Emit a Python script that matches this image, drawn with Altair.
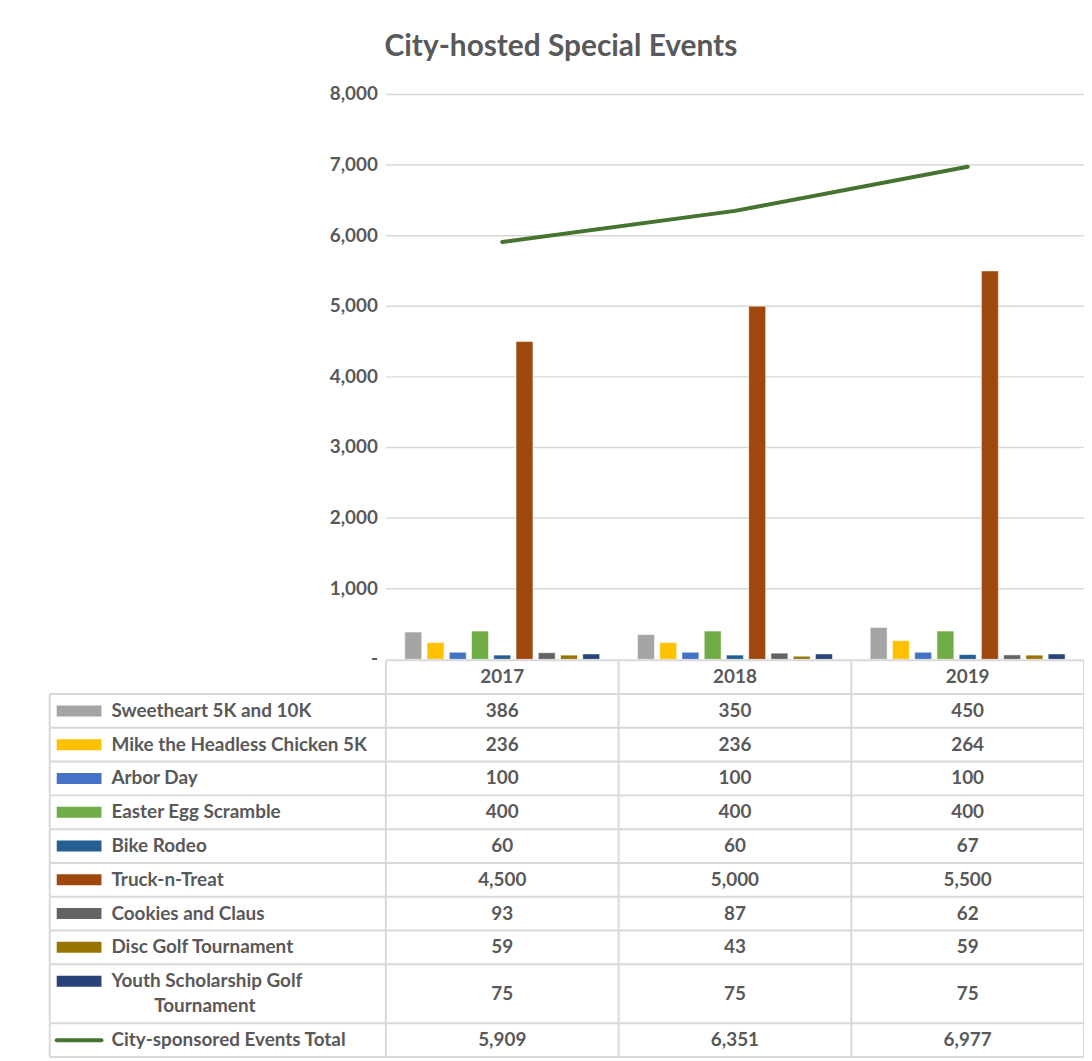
import altair as alt
import pandas as pd

# ---------------- data ----------------
years = ["2017", "2018", "2019"]
series = [
    "Sweetheart 5K and 10K",
    "Mike the Headless Chicken 5K",
    "Arbor Day",
    "Easter Egg Scramble",
    "Bike Rodeo",
    "Truck-n-Treat",
    "Cookies and Claus",
    "Disc Golf Tournament",
    "Youth Scholarship Golf Tournament",
]
series_colors = ["#A5A5A5", "#FFC000", "#4472C4", "#70AD47", "#255E91",
                 "#9E480E", "#636363", "#997300", "#264478"]
v2017 = [386, 236, 100, 400, 60, 4500, 93, 59, 75]
v2018 = [350, 236, 100, 400, 60, 5000, 87, 43, 75]
v2019 = [450, 264, 100, 400, 67, 5500, 62, 59, 75]
total_name = "City-sponsored Events Total"
totals = [5909, 6351, 6977]
total_color = "#467330"
# how each row label is wrapped in the data table
label_lines = [
    ["Sweetheart 5K and 10K"],
    ["Mike the Headless Chicken 5K"],
    ["Arbor Day"],
    ["Easter Egg Scramble"],
    ["Bike Rodeo"],
    ["Truck-n-Treat"],
    ["Cookies and Claus"],
    ["Disc Golf Tournament"],
    ["Youth Scholarship Golf", "Tournament"],
    ["City-sponsored Events Total"],
]
y_ticks = [0, 1000, 2000, 3000, 4000, 5000, 6000, 7000, 8000]
title_text = "City-hosted Special Events"

# ---------------- layout constants ----------------
W, H = 1040, 968            # whole plot area (table included)
LABEL_PX = 338              # width of the table's label column
COL_PX = (W - LABEL_PX) / 3 # width of one year column
CHART_PX = 568              # height of the bar/line area
LABEL_W = LABEL_PX / COL_PX # label column width in column units
TEXT = "#595959"
GRID = "#D9D9D9"
FONT = "Lato"
FS = 19

# ---------------- frames ----------------
all_vals = [v2017, v2018, v2019]
bar_rows = []
for yi, y in enumerate(years):
    for si, s in enumerate(series):
        bar_rows.append({"year": y, "series": s, "value": all_vals[yi][si]})
bars_df = pd.DataFrame(bar_rows)
total_df = pd.DataFrame({"year": years, "value": totals})
ticks_df = pd.DataFrame({"v": y_ticks})

# table rows
row_names = series + [total_name]
row_colors = series_colors + [total_color]
row_vals = [[all_vals[yi][si] for yi in range(3)] for si in range(len(series))] + [totals]
LINE_U = 0.74
rows = []
top = 1.0
for ri, name in enumerate(row_names):
    n = len(label_lines[ri])
    h = 1.0 if n == 1 else 1.75
    rows.append({"name": name, "top": top, "h": h, "n": n})
    top += h
table_end = top

hlines = [{"y": 0.0, "x1": 0.0, "x2": 3.0}]
for r in rows:
    hlines.append({"y": r["top"], "x1": -LABEL_W, "x2": 3.0})
hlines.append({"y": table_end, "x1": -LABEL_W, "x2": 3.0})
hlines_df = pd.DataFrame(hlines)
vlines_df = pd.DataFrame(
    [{"x": -LABEL_W, "y1": 1.0, "y2": table_end}]
    + [{"x": float(i), "y1": 0.0, "y2": table_end} for i in range(4)]
)

header_df = pd.DataFrame({"t": years, "x": [i + 0.5 for i in range(3)], "y": [0.5] * 3})

val_rows, lab_rows, sw_rows = [], [], []
for ri, r in enumerate(rows):
    c = r["top"] + r["h"] / 2
    for yi in range(3):
        val_rows.append({"t": f"{row_vals[ri][yi]:,}", "x": yi + 0.5, "y": c})
    for j, line in enumerate(label_lines[ri]):
        ly = c + (j - (r["n"] - 1) / 2) * LINE_U
        lab_rows.append({"t": line, "x": -LABEL_W, "y": ly, "cont": j > 0})
    first_y = c - (r["n"] - 1) / 2 * LINE_U
    sw_rows.append({"name": r["name"], "y": first_y,
                    "x1": -LABEL_W + 7 / COL_PX, "x2": -LABEL_W + 52 / COL_PX,
                    "kind": "line" if r["name"] == total_name else "bar"})
val_df = pd.DataFrame(val_rows)
lab_df = pd.DataFrame(lab_rows)
sw_df = pd.DataFrame(sw_rows)

# ---------------- scales ----------------
xs = alt.Scale(domain=years, range=[LABEL_PX, W], paddingInner=0, paddingOuter=0)
ys = alt.Scale(domain=[0, 8000], range=[CHART_PX, 0], nice=False)
cs = alt.Scale(domain=row_names, range=row_colors)
txs = alt.Scale(domain=[-LABEL_W, 3], range=[0, W], nice=False, zero=False)
tys = alt.Scale(domain=[0, table_end], range=[CHART_PX + 1, H], nice=False, zero=False)

# ---------------- chart part ----------------
grid = alt.Chart(ticks_df).transform_filter("datum.v > 0").mark_rule(
    color=GRID, strokeWidth=1.5
).encode(
    x=alt.XDatum("2017", bandPosition=0, scale=xs, axis=None),
    x2=alt.X2Datum("2019", bandPosition=1),
    y=alt.Y("v:Q", scale=ys, axis=None),
)

bars = alt.Chart(bars_df).mark_bar(stroke="white", strokeWidth=0.5).encode(
    x=alt.X("year:N", scale=xs, axis=None, sort=years),
    xOffset=alt.XOffset("series:N", sort=series,
                        scale=alt.Scale(paddingInner=0.24, paddingOuter=0.85)),
    y=alt.Y("value:Q", scale=ys, axis=None),
    color=alt.Color("series:N", scale=cs, legend=None),
)

line = alt.Chart(total_df).mark_line(
    color=total_color, strokeWidth=4, strokeCap="round"
).encode(
    x=alt.X("year:N", scale=xs, axis=None, sort=years),
    y=alt.Y("value:Q", scale=ys, axis=None),
)

ylabels = alt.Chart(ticks_df).transform_calculate(
    lab="datum.v == 0 ? '-' : format(datum.v, ',')"
).mark_text(
    align="right", baseline="middle", dx=-8, font=FONT, fontSize=FS,
    fontWeight="bold", color=TEXT
).encode(
    x=alt.XDatum("2017", bandPosition=0, scale=xs, axis=None),
    y=alt.Y("v:Q", scale=ys, axis=None),
    text="lab:N",
)

top_part = alt.layer(grid, bars, line, ylabels)

# ---------------- table part ----------------
hl = alt.Chart(hlines_df).mark_rule(color=GRID, strokeWidth=2).encode(
    x=alt.X("x1:Q", scale=txs, axis=None), x2="x2:Q",
    y=alt.Y("y:Q", scale=tys, axis=None),
)
vl = alt.Chart(vlines_df).mark_rule(color=GRID, strokeWidth=2).encode(
    x=alt.X("x:Q", scale=txs, axis=None),
    y=alt.Y("y1:Q", scale=tys, axis=None), y2="y2:Q",
)
sw_bar = alt.Chart(sw_df).transform_filter("datum.kind == 'bar'").mark_rule(
    strokeWidth=11
).encode(
    x=alt.X("x1:Q", scale=txs, axis=None), x2="x2:Q",
    y=alt.Y("y:Q", scale=tys, axis=None),
    color=alt.Color("name:N", scale=cs, legend=None),
)
sw_line = alt.Chart(sw_df).transform_filter("datum.kind == 'line'").mark_rule(
    strokeWidth=4, strokeCap="round"
).encode(
    x=alt.X("x1:Q", scale=txs, axis=None), x2="x2:Q",
    y=alt.Y("y:Q", scale=tys, axis=None),
    color=alt.Color("name:N", scale=cs, legend=None),
)
txt_style = dict(font=FONT, fontSize=FS, fontWeight="bold", color=TEXT, baseline="middle")
head = alt.Chart(header_df).mark_text(align="center", **txt_style).encode(
    x=alt.X("x:Q", scale=txs, axis=None), y=alt.Y("y:Q", scale=tys, axis=None), text="t:N"
)
vals = alt.Chart(val_df).mark_text(align="center", **txt_style).encode(
    x=alt.X("x:Q", scale=txs, axis=None), y=alt.Y("y:Q", scale=tys, axis=None), text="t:N"
)
labs = alt.Chart(lab_df).transform_filter("!datum.cont").mark_text(
    align="left", dx=62, **txt_style
).encode(
    x=alt.X("x:Q", scale=txs, axis=None), y=alt.Y("y:Q", scale=tys, axis=None), text="t:N"
)
labs2 = alt.Chart(lab_df).transform_filter("datum.cont").mark_text(
    align="left", dx=105, **txt_style
).encode(
    x=alt.X("x:Q", scale=txs, axis=None), y=alt.Y("y:Q", scale=tys, axis=None), text="t:N"
)

table_part = alt.layer(hl, vl, sw_bar, sw_line, head, vals, labs, labs2)

chart = alt.layer(top_part, table_part).resolve_scale(
    x="independent", y="independent"
).properties(
    width=W, height=H,
    title=alt.Title(title_text, font=FONT, fontSize=30, fontWeight="bold",
                    color=TEXT, anchor="middle", baseline="bottom", offset=20,
                    dy=26, dx=-6),
    autosize=alt.AutoSizeParams(type="none"),
    padding={"left": 42, "top": 84, "right": 0, "bottom": 0},
).configure_view(stroke=None)

chart.save("out.html", embed_options={"renderer": "svg", "actions": False})
